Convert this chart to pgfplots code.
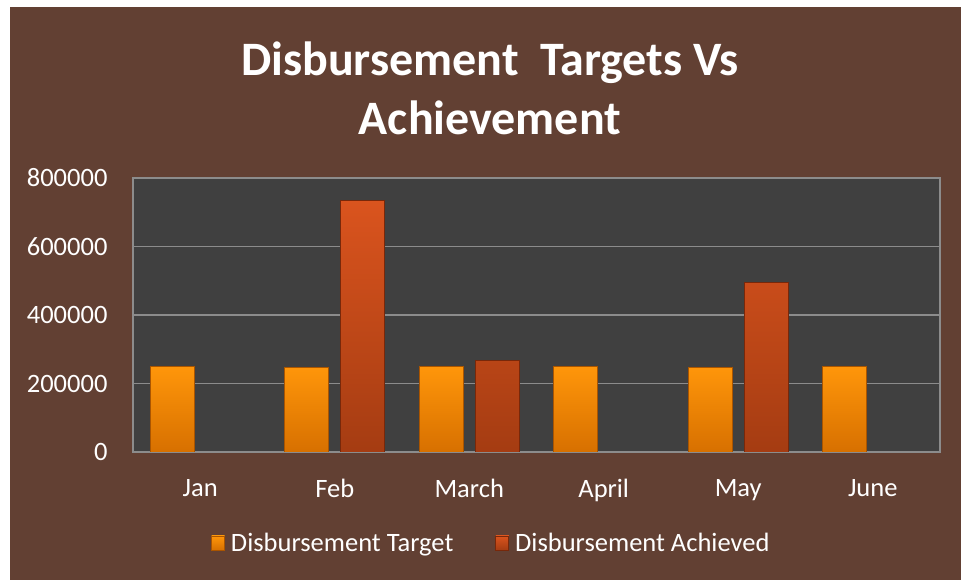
\documentclass[border=0pt]{standalone}
\usepackage{pgfplots}
\pgfplotsset{compat=1.18}
\usepackage{fontspec}
\setmainfont{Carlito}
\definecolor{bgbrown}{RGB}{98,64,51}
\definecolor{plotgray}{RGB}{64,64,64}
\definecolor{gridgray}{RGB}{140,140,140}
\definecolor{tgtTop}{RGB}{255,150,10}
\definecolor{tgtBot}{RGB}{215,112,0}
\definecolor{tgtEdge}{RGB}{170,85,0}
\definecolor{achTop}{RGB}{218,84,30}
\definecolor{achBot}{RGB}{165,60,18}
\definecolor{achEdge}{RGB}{120,40,10}
\begin{document}
\begin{tikzpicture}[x=1pt,y=1pt]
\fill[white] (0,0) rectangle (961,580);
\fill[bgbrown] (10,0) rectangle (961,573);
\node[align=center, text=white, font=\fontsize{48}{59}\selectfont\bfseries] at (490,492)
  {Disbursement\ \ Targets Vs\\Achievement};
\begin{axis}[
    at={(133pt,128pt)}, anchor=south west,
    scale only axis, width=807pt, height=274pt,
    axis background/.style={fill=plotgray},
    ybar=12pt, bar width=44pt,
    xmin=-0.5, xmax=5.5, ymin=0, ymax=800000,
    xtick=data, xticklabels={Jan,Feb,March,April,May,June},
    ytick={0,200000,400000,600000,800000},
    scaled y ticks=false,
    yticklabel style={/pgf/number format/fixed, /pgf/number format/1000 sep={}},
    /pgf/number format/assume math mode=true,
    ymajorgrids, grid style={gridgray, line width=1.5pt},
    axis line style={gridgray, line width=1.5pt},
    major tick length=0pt,
    tick label style={text=white, font=\fontsize{26.5}{30}\selectfont},
    yticklabel style={xshift=-22pt},
    xticklabel style={yshift=-24pt},
    legend style={at={(0.444,-0.332)}, anchor=center, draw=none, fill=none,
      text=white, font=\fontsize{26.5}{30}\selectfont, legend columns=2,
      /tikz/every odd column/.append style={column sep=4pt},
      /tikz/every even column/.append style={column sep=40pt}},
    legend image code/.code={\fill[#1] (0pt,-7pt) rectangle (13pt,7pt);},
]
\addplot[draw=tgtEdge, line width=0.8pt, top color=tgtTop, bottom color=tgtBot]
  coordinates {(0,250000) (1,248000) (2,250000) (3,250000) (4,248000) (5,250000)};
\addplot[draw=achEdge, line width=0.8pt, top color=achTop, bottom color=achBot]
  coordinates {(1,735000) (2,268000) (4,496000)};
\legend{Disbursement Target, Disbursement Achieved}
\end{axis}
\end{tikzpicture}
\end{document}
